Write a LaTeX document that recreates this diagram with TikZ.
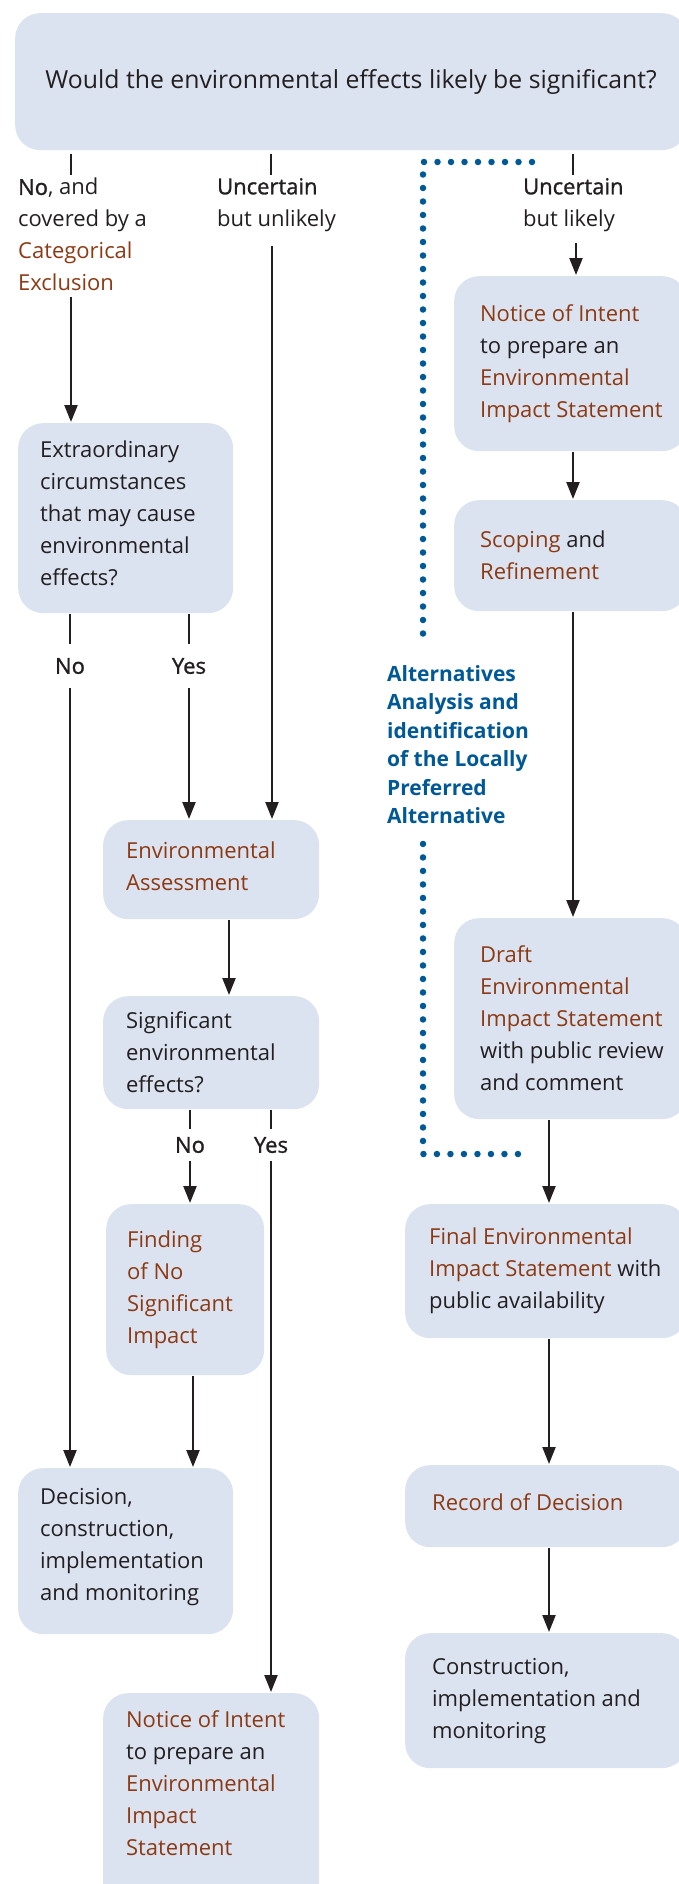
\documentclass[tikz,border=0pt]{standalone}
\usepackage{fontspec}
\setmainfont{Open Sans}
\newfontfamily\medfont{Open Sans}[FakeBold=1.2]
\usetikzlibrary{arrows.meta,positioning}

\definecolor{boxfill}{RGB}{220,227,240}
\definecolor{ink}{RGB}{35,31,32}
\definecolor{rust}{RGB}{140,58,20}
\definecolor{navy}{RGB}{0,88,150}

\newcommand{\hl}[1]{\textcolor{rust}{#1}}
\newcommand{\bodyfont}{\fontsize{22pt}{32pt}\selectfont}
\newcommand{\headfont}{\fontsize{24.8pt}{30pt}\selectfont}
\newcommand{\altfont}{\bfseries\fontsize{21pt}{28.5pt}\selectfont}

\begin{document}
\begin{tikzpicture}[x=1pt,y=-1pt,line width=2.3pt,draw=ink,
    >={Triangle[length=17pt,width=13pt]},
    box/.style={fill=boxfill,draw=none,rounded corners=25pt,inner sep=0pt,anchor=north west},
    txt/.style={inner sep=0pt,align=left,text=ink,font=\bodyfont},
    lbl/.style={inner sep=0pt,text=ink,font=\bodyfont\medfont},
    dotline/.style={navy,line width=6.5pt,line cap=round,dash pattern=on 0pt off 13.5pt}]
    \clip (0,0) rectangle (679,1884);

    % boxes
    \node[box,minimum width=672pt,minimum height=137pt] (top) at (14,12) {};
    \node[box,minimum width=233pt,minimum height=175pt] (noiR) at (453,275) {};
    \node[box,minimum width=233pt,minimum height=111pt] (scope) at (453,499) {};
    \node[box,minimum width=233pt,minimum height=201pt] (draft) at (453,917) {};
    \node[box,minimum width=282pt,minimum height=134pt] (final) at (404,1203) {};
    \node[box,minimum width=282pt,minimum height=82pt] (record) at (404,1464) {};
    \node[box,minimum width=282pt,minimum height=135pt] (cons) at (404,1632) {};
    \node[box,minimum width=215pt,minimum height=190pt] (extra) at (17,422) {};
    \node[box,minimum width=216pt,minimum height=99pt] (ea) at (102,819) {};
    \node[box,minimum width=216pt,minimum height=113pt] (sig) at (102,995) {};
    \node[box,minimum width=158pt,minimum height=171pt] (finding) at (105,1203) {};
    \node[box,minimum width=215pt,minimum height=166pt] (dec) at (17,1467) {};
    \node[box,minimum width=216pt,minimum height=230pt] (noiB) at (102,1692) {};

    % box texts
    \node[txt,font=\headfont] at (top.center) {Would the environmental effects likely be significant?};
    \node[txt,right=26pt of noiR.west] {\hl{Notice of Intent}\\to prepare an\\\hl{Environmental}\\\hl{Impact Statement}};
    \node[txt,right=26pt of scope.west] {\hl{Scoping} and\\\hl{Refinement}};
    \node[txt,right=26pt of draft.west] {\hl{Draft}\\\hl{Environmental}\\\hl{Impact Statement}\\with public review\\and comment};
    \node[txt,right=24pt of final.west] {\hl{Final Environmental}\\\hl{Impact Statement} with\\public availability};
    \node[txt,right=27pt of record.west,yshift=4pt] {\hl{Record of Decision}};
    \node[txt,right=27pt of cons.west] {Construction,\\implementation and\\monitoring};
    \node[txt,right=22pt of extra.west,yshift=5pt] {Extraordinary\\circumstances\\that may cause\\environmental\\effects?};
    \node[txt,right=23pt of ea.west,yshift=3pt] {\hl{Environmental}\\\hl{Assessment}};
    \node[txt,right=23pt of sig.west] {Significant\\environmental\\effects?};
    \node[txt,right=21pt of finding.west] {\hl{Finding}\\\hl{of No}\\\hl{Significant}\\\hl{Impact}};
    \node[txt,right=22pt of dec.west,yshift=4pt] {Decision,\\construction,\\implementation\\and monitoring};
    \node[txt,anchor=north west] at (125,1709) {\hl{Notice of Intent}\\to prepare an\\\hl{Environmental}\\\hl{Impact}\\\hl{Statement}};

    % branch labels
    \node[txt,anchor=north west] (catex) at (17,177) {{\medfont No}, and\\covered by a\\\hl{Categorical}\\\hl{Exclusion}};
    \node[txt,anchor=north west] (unlikely) at (216,177) {{\medfont Uncertain}\\but unlikely};
    \node[txt,anchor=north west] (likely) at (522,177) {{\medfont Uncertain}\\but likely};
    \node[lbl,minimum height=42pt] (noA) at (70,666) {No};
    \node[lbl,minimum height=42pt] (yesA) at (189,666) {Yes};
    \node[lbl,minimum height=30pt] (noB) at (190,1145) {No};
    \node[lbl,minimum height=30pt] (yesB) at (271,1145) {Yes};
    \node[txt,anchor=north west,inner xsep=0pt,inner ysep=19pt,text=navy,font=\altfont] (alt) at (386,645)
        {Alternatives\\Analysis and\\identification\\of the Locally\\Preferred\\Alternative};

    \coordinate (tickA) at (71,175);
    \coordinate (tailA) at (71,297);
    \coordinate (tickB) at (271,175);
    \coordinate (tailB) at (272,246);
    \coordinate (tickC) at (573,175);
    \coordinate (tailC) at (576,243);
    \coordinate (colR) at (549,0);
    \coordinate (colM) at (229,0);
    \coordinate (colF) at (193,0);
    \coordinate (dotTop) at (532,162);
    \coordinate (dotBot) at (531,1154);
    \coordinate (dotCol) at (423,0);

    % connectors
    \draw[shorten <=3pt] (top.south -| tickA) -- (tickA);
    \draw[->] (tailA) -- (extra.north -| tailA);
    \draw[shorten <=3pt] (top.south -| tickB) -- (tickB);
    \draw[->] (tailB) -- (ea.north -| tailB);
    \draw[shorten <=3pt] (top.south -| tickC) -- (tickC);
    \draw[->] (tailC) -- (noiR.north -| tailC);
    \draw[->] (noiR.south -| tickC) -- (scope.north -| tickC);
    \draw[->] (scope.south -| tickC) -- (draft.north -| tickC);
    \draw[->] (draft.south -| colR) -- (final.north -| colR);
    \draw[->] (final.south -| colR) -- (record.north -| colR);
    \draw[->] (record.south -| colR) -- (cons.north -| colR);

    \draw (extra.south -| noA) -- (noA.north);
    \draw[->] (noA.south) -- (dec.north -| noA);
    \draw (extra.south -| yesA) -- (yesA.north);
    \draw[->] (yesA.south) -- (ea.north -| yesA);
    \draw[->] (ea.south -| colM) -- (sig.north -| colM);
    \draw (sig.south -| noB) -- (noB.north);
    \draw[->] (noB.south) -- (finding.north -| noB);
    \draw (sig.south -| yesB) -- (yesB.north);
    \draw[->] (yesB.south) -- (noiB.north -| yesB);
    \draw[->] (finding.south -| colF) -- (dec.north -| colF);

    % alternatives analysis bracket
    \draw[dotline] (dotTop) -| (alt.north -| dotCol);
    \draw[dotline] (alt.south -| dotCol) |- (dotBot);
\end{tikzpicture}
\end{document}
